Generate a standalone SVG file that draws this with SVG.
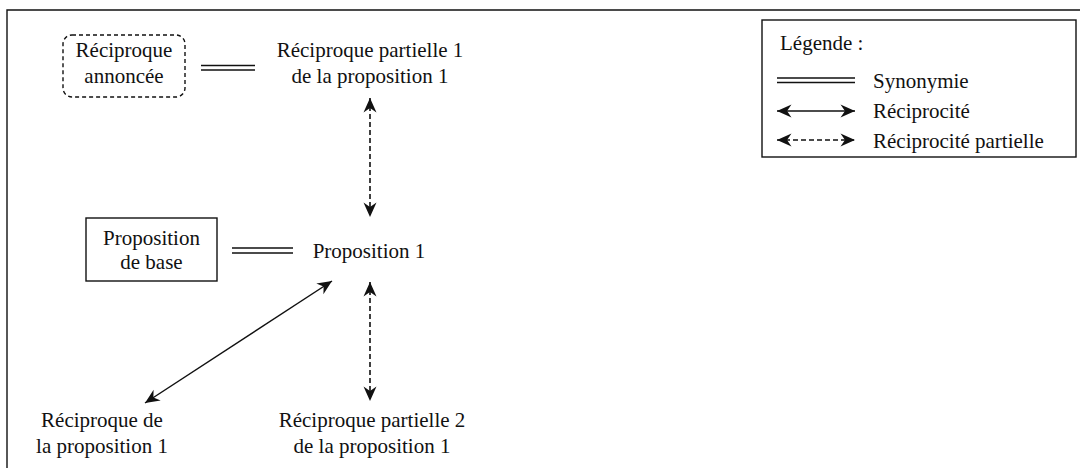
<svg xmlns="http://www.w3.org/2000/svg" width="1080" height="468" viewBox="0 0 1080 468">
  <defs>
    <style>
      text { font-family: "Liberation Serif", "Times New Roman", serif; font-size: 21px; fill: #111; }
      .c { text-anchor: middle; }
      .ln { stroke: #111; stroke-width: 1.4; fill: none; }
      .dash { stroke-dasharray: 5 3; stroke-width: 1.6; }
      .box { fill: #fff; stroke: #111; stroke-width: 1.4; }
    </style>
    <marker id="head" viewBox="-15 -7 16 14" refX="0" refY="0" markerWidth="16" markerHeight="14" markerUnits="userSpaceOnUse" orient="auto-start-reverse">
      <path d="M0,0 L-14.5,-6.5 L-10,0 L-14.5,6.5 Z" fill="#111"/>
    </marker>
  </defs>

  <rect width="1080" height="468" fill="#fff"/>
  <!-- outer frame (open to the right and bottom) -->
  <path class="ln" d="M7,468 V10 H1080"/>

  <!-- nodes -->
  <g id="reciproque-annoncee">
    <rect class="box" style="stroke-dasharray:4 3" x="63" y="35" width="122" height="62" rx="9"/>
    <text class="c" x="124" y="57">Réciproque</text>
    <text class="c" x="124" y="83">annoncée</text>
  </g>
  <g id="reciproque-partielle-1">
    <text class="c" x="370" y="57">Réciproque partielle 1</text>
    <text class="c" x="370" y="83">de la proposition 1</text>
  </g>
  <g id="proposition-de-base">
    <rect class="box" x="86" y="218" width="131" height="63"/>
    <text class="c" x="151.5" y="245">Proposition</text>
    <text class="c" x="151.5" y="269">de base</text>
  </g>
  <g id="proposition-1">
    <text class="c" x="369" y="258">Proposition 1</text>
  </g>
  <g id="reciproque">
    <text class="c" x="102" y="427">Réciproque de</text>
    <text class="c" x="102" y="453">la proposition 1</text>
  </g>
  <g id="reciproque-partielle-2">
    <text class="c" x="372" y="427">Réciproque partielle 2</text>
    <text class="c" x="372" y="453">de la proposition 1</text>
  </g>

  <!-- connectors -->
  <g id="connectors">
    <!-- synonymy -->
    <path class="ln" d="M201,65.5 H255 M201,70 H255"/>
    <path class="ln" d="M232,248 H293 M232,253 H293"/>
    <!-- partial reciprocity -->
    <line class="ln dash" x1="370" y1="98" x2="370" y2="217" marker-start="url(#head)" marker-end="url(#head)"/>
    <line class="ln dash" x1="370" y1="282" x2="370" y2="401" marker-start="url(#head)" marker-end="url(#head)"/>
    <!-- reciprocity -->
    <line class="ln" x1="332" y1="281" x2="145" y2="403" marker-start="url(#head)" marker-end="url(#head)"/>
  </g>

  <!-- legend -->
  <g id="legend">
    <rect class="box" x="762" y="20" width="314" height="137"/>
    <text x="780" y="50">Légende :</text>
    <path class="ln" d="M777,78 H855 M777,82.5 H855"/>
    <text x="873" y="88">Synonymie</text>
    <line class="ln" x1="777" y1="111" x2="855" y2="111" marker-start="url(#head)" marker-end="url(#head)"/>
    <text x="873" y="118">Réciprocité</text>
    <line class="ln dash" x1="777" y1="140" x2="855" y2="140" marker-start="url(#head)" marker-end="url(#head)"/>
    <text x="873" y="148">Réciprocité partielle</text>
  </g>
</svg>
